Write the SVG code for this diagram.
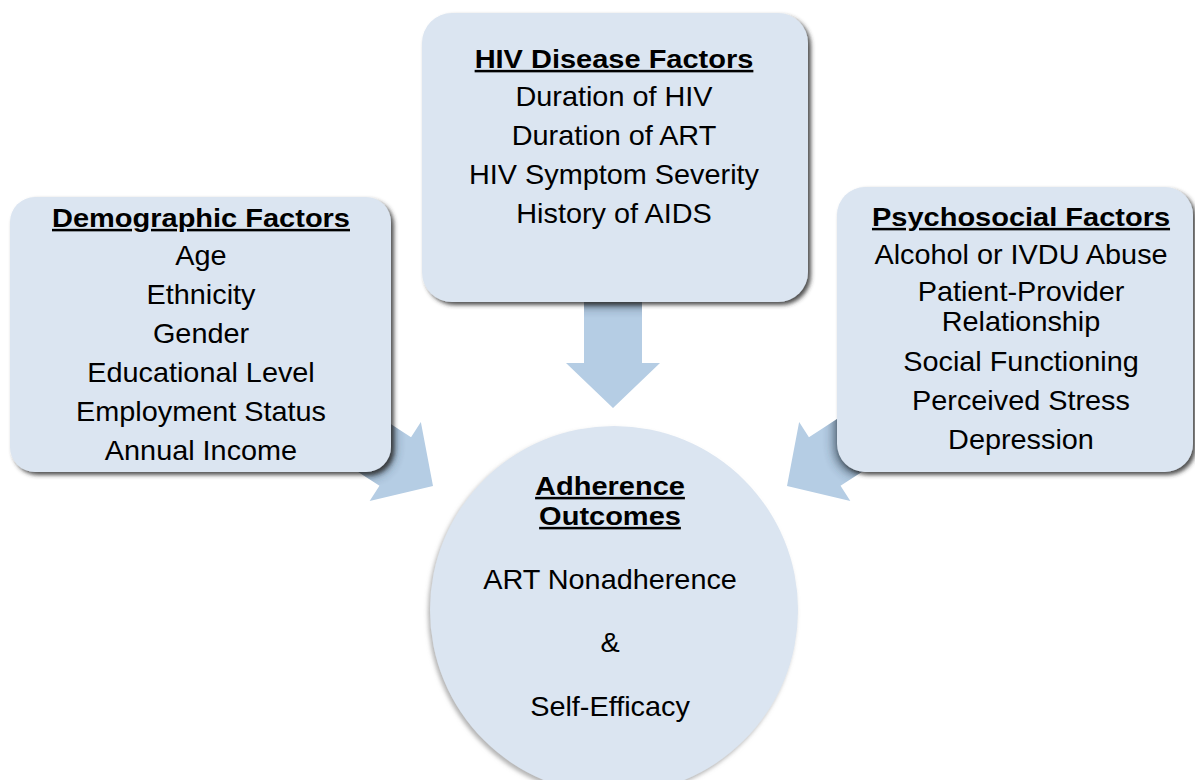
<svg xmlns="http://www.w3.org/2000/svg" xmlns:xlink="http://www.w3.org/1999/xlink" width="1195" height="780" viewBox="0 0 1195 780">
  <style>
    .box { fill: #dbe5f1; }
    .arrow { fill: #b5cde4; }
    .t { font-family: "Liberation Sans", Arial, sans-serif; font-size: 28px; fill: #000; text-anchor: middle; }
    .h { font-family: "Liberation Sans", Arial, sans-serif; font-size: 25px; font-weight: bold; fill: #000; text-anchor: middle; text-decoration: underline; }
  </style>
  <defs>
    <!-- block arrow pointing along +x, tip at the origin -->
    <path id="arr" d="M0,0 L-45,-47 L-45,-29 L-160,-29 L-160,29 L-45,29 L-45,47 Z"/>
    <filter id="boxShadow" x="-10%" y="-10%" width="125%" height="125%">
      <feDropShadow dx="3" dy="3" stdDeviation="2" flood-color="#303030" flood-opacity="0.85"/>
    </filter>
    <filter id="circleShadow" x="-10%" y="-10%" width="125%" height="125%">
      <feDropShadow dx="-2" dy="3" stdDeviation="2" flood-color="#808080" flood-opacity="0.6"/>
    </filter>
    <filter id="soft" x="-20%" y="-20%" width="140%" height="140%">
      <feGaussianBlur stdDeviation="6"/>
    </filter>
    <clipPath id="clipDown"><use xlink:href="#arr" transform="translate(613 408) rotate(90)"/></clipPath>
    <clipPath id="clipLeft"><use xlink:href="#arr" transform="translate(433 486) rotate(33)"/></clipPath>
    <clipPath id="clipRight"><use xlink:href="#arr" transform="translate(787 486) rotate(147)"/></clipPath>
  </defs>

  <rect width="1195" height="780" fill="#ffffff"/>

  <!-- connectors: block arrows pointing into the outcome circle -->
  <g id="connectors">
    <use class="arrow" xlink:href="#arr" transform="translate(613 408) rotate(90)"/>
    <use class="arrow" xlink:href="#arr" transform="translate(433 486) rotate(33)"/>
    <use class="arrow" xlink:href="#arr" transform="translate(787 486) rotate(147)"/>
    <!-- box shadows falling on the arrow shafts -->
    <g clip-path="url(#clipDown)">
      <rect x="424" y="16" width="386" height="289" rx="30" fill="#2c3a48" opacity="0.85" filter="url(#soft)"/>
    </g>
    <g clip-path="url(#clipLeft)">
      <rect x="12" y="200" width="381" height="275" rx="25" fill="#2c3a48" opacity="0.85" filter="url(#soft)"/>
    </g>
    <g clip-path="url(#clipRight)">
      <rect x="835" y="190" width="360" height="285" rx="28" fill="#2c3a48" opacity="0.85" filter="url(#soft)"/>
    </g>
  </g>

  <g id="outcomes">
    <circle class="box" cx="614" cy="610" r="184" filter="url(#circleShadow)"/>
    <text class="h" transform="translate(610 495) scale(1.16 1)">Adherence</text>
    <text class="h" transform="translate(610 525) scale(1.16 1)">Outcomes</text>
    <text class="t" transform="translate(610 589) scale(1.03 1)">ART Nonadherence</text>
    <text class="t" transform="translate(610 652) scale(1.03 1)">&amp;</text>
    <text class="t" transform="translate(610 716) scale(1.03 1)">Self-Efficacy</text>
  </g>

  <g id="demographic">
    <rect class="box" x="10" y="197" width="381" height="275" rx="25" filter="url(#boxShadow)"/>
    <text class="h" transform="translate(201 227) scale(1.16 1)">Demographic Factors</text>
    <text class="t" transform="translate(201 265) scale(1.03 1)">Age</text>
    <text class="t" transform="translate(201 304) scale(1.03 1)">Ethnicity</text>
    <text class="t" transform="translate(201 343) scale(1.03 1)">Gender</text>
    <text class="t" transform="translate(201 382) scale(1.03 1)">Educational Level</text>
    <text class="t" transform="translate(201 421) scale(1.03 1)">Employment Status</text>
    <text class="t" transform="translate(201 460) scale(1.03 1)">Annual Income</text>
  </g>

  <g id="hiv">
    <rect class="box" x="422" y="13" width="386" height="289" rx="30" filter="url(#boxShadow)"/>
    <text class="h" transform="translate(614 68) scale(1.16 1)">HIV Disease Factors</text>
    <text class="t" transform="translate(614 106) scale(1.03 1)">Duration of HIV</text>
    <text class="t" transform="translate(614 145) scale(1.03 1)">Duration of ART</text>
    <text class="t" transform="translate(614 184) scale(1.03 1)">HIV Symptom Severity</text>
    <text class="t" transform="translate(614 223) scale(1.03 1)">History of AIDS</text>
  </g>

  <g id="psychosocial">
    <rect class="box" x="837" y="187" width="356" height="285" rx="28" filter="url(#boxShadow)"/>
    <text class="h" transform="translate(1021 226) scale(1.16 1)">Psychosocial Factors</text>
    <text class="t" transform="translate(1021 264) scale(1.03 1)">Alcohol or IVDU Abuse</text>
    <text class="t" transform="translate(1021 301) scale(1.03 1)">Patient-Provider</text>
    <text class="t" transform="translate(1021 331) scale(1.03 1)">Relationship</text>
    <text class="t" transform="translate(1021 371) scale(1.03 1)">Social Functioning</text>
    <text class="t" transform="translate(1021 410) scale(1.03 1)">Perceived Stress</text>
    <text class="t" transform="translate(1021 449) scale(1.03 1)">Depression</text>
  </g>
</svg>
